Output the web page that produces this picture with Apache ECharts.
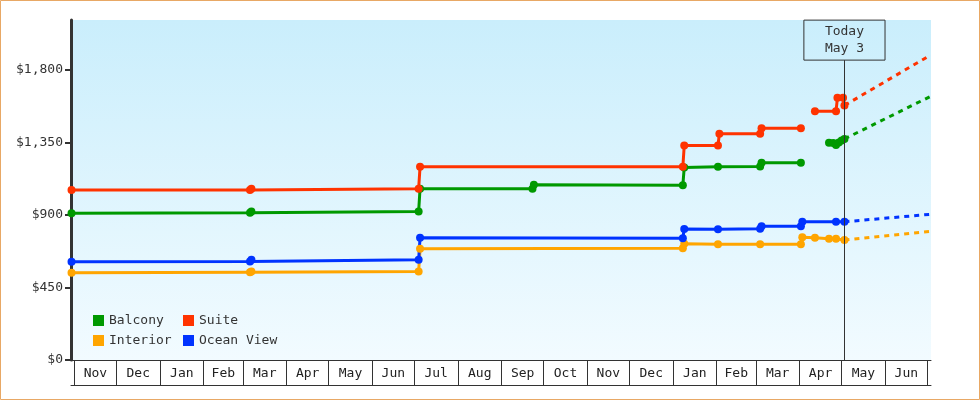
<!DOCTYPE html>
<html>
<head>
<meta charset="utf-8">
<title>Cabin prices</title>
<script src="https://cdn.jsdelivr.net/npm/echarts@6/dist/echarts.min.js"></script>
<style>
    html, body { margin: 0; padding: 0; background: #fff; }
    #priceChart { width: 980px; height: 400px; }
</style>
</head>
<body>
<div id="priceChart"></div>
<script type="text/javascript">
    // price history per cabin, [date, price]; '-' breaks the line
    var balcony = [
        ['2016-10-30', 910], ['2017-03-06', 914], ['2017-03-07', 922], ['2017-07-04', 922],
        ['2017-07-05', 1063], ['2017-09-23', 1063], ['2017-09-24', 1087], ['2018-01-08', 1085],
        ['2018-01-09', 1195], ['2018-02-02', 1199], ['2018-03-04', 1201], ['2018-03-05', 1224],
        ['2018-04-02', 1224], ['2018-04-10', '-'], ['2018-04-22', 1348], ['2018-04-25', 1346],
        ['2018-04-27', 1335], ['2018-04-29', 1350], ['2018-05-01', 1362], ['2018-05-03', 1372]
    ];
    var suite = [
        ['2016-10-30', 1055], ['2017-03-06', 1055], ['2017-03-07', 1062], ['2017-07-04', 1063],
        ['2017-07-05', 1199], ['2018-01-08', 1199], ['2018-01-09', 1331], ['2018-02-02', 1331],
        ['2018-02-03', 1404], ['2018-03-04', 1404], ['2018-03-05', 1438], ['2018-04-02', 1438],
        ['2018-04-07', '-'], ['2018-04-12', 1544], ['2018-04-27', 1544], ['2018-04-28', 1627],
        ['2018-05-02', 1627], ['2018-05-03', 1580]
    ];
    var interior = [
        ['2016-10-30', 541], ['2017-03-06', 545], ['2017-03-07', 549], ['2017-07-04', 549],
        ['2017-07-05', 690], ['2018-01-08', 694], ['2018-01-09', 721], ['2018-02-02', 719],
        ['2018-03-04', 719], ['2018-04-02', 719], ['2018-04-03', 762], ['2018-04-12', 758],
        ['2018-04-22', 752], ['2018-04-27', 752], ['2018-05-03', 744]
    ];
    var oceanView = [
        ['2016-10-30', 610], ['2017-03-06', 611], ['2017-03-07', 622], ['2017-07-04', 622],
        ['2017-07-05', 758], ['2018-01-08', 756], ['2018-01-09', 813], ['2018-02-02', 812],
        ['2018-03-04', 814], ['2018-03-05', 830], ['2018-04-02', 830], ['2018-04-03', 858],
        ['2018-04-27', 858], ['2018-05-03', 858]
    ];

    // projected prices after today
    var balconyTrend = [['2018-05-03', 1372], ['2018-07-03', 1635]];
    var suiteTrend = [['2018-05-03', 1580], ['2018-07-03', 1891]];
    var interiorTrend = [['2018-05-03', 744], ['2018-07-03', 798]];
    var oceanViewTrend = [['2018-05-03', 858], ['2018-07-03', 904]];

    var cabinNames = ['Balcony', 'Suite', 'Interior', 'Ocean View'];
    var cabinColors = ['#009900', '#ff3300', '#ffa500', '#0033ff'];

    var today = '2018-05-03';
    var todayText = 'Today\nMay 3';
    var todayTop = 1861;

    var xStart = '2016-10-29T15';
    var xEnd = '2018-07-03T14';
    var monthStarts = [
        '2016-11-01', '2016-12-01', '2017-01-01', '2017-02-01', '2017-03-01', '2017-04-01',
        '2017-05-01', '2017-06-01', '2017-07-01', '2017-08-01', '2017-09-01', '2017-10-01',
        '2017-11-01', '2017-12-01', '2018-01-01', '2018-02-01', '2018-03-01', '2018-04-01',
        '2018-05-01', '2018-06-01', '2018-07-01'
    ];
    var monthNames = ['Jan', 'Feb', 'Mar', 'Apr', 'May', 'Jun', 'Jul', 'Aug', 'Sep', 'Oct', 'Nov', 'Dec'];
    var priceTicks = [0, 450, 900, 1350, 1800];
    var priceMax = 2110;

    var FONT = '"DejaVu Sans Mono", monospace';

    function toTime(s) {
        var p = s.split(/[-T]/);
        return new Date(+p[0], p[1] - 1, +p[2], +(p[3] || 0)).getTime();
    }

    function toPoints(list) {
        return list.map(function (d) {
            return [toTime(d[0]), d[1]];
        });
    }

    var monthTicks = monthStarts.map(toTime);
    var monthMiddles = [];
    for (var i = 0; i < monthTicks.length - 1; i++) {
        monthMiddles.push((monthTicks[i] + monthTicks[i + 1]) / 2);
    }

    function priceSeries(idx, data) {
        return {
            name: cabinNames[idx],
            type: 'line',
            data: toPoints(data),
            symbol: 'circle',
            symbolSize: 8,
            color: cabinColors[idx],
            lineStyle: {width: 3},
            silent: true
        };
    }

    function trendSeries(idx, data) {
        return {
            name: cabinNames[idx] + ' trend',
            type: 'line',
            data: toPoints(data),
            symbol: 'none',
            color: cabinColors[idx],
            lineStyle: {width: 3, type: [5, 5]},
            silent: true
        };
    }

    function legendColumn(left, names) {
        return {
            orient: 'vertical',
            left: left,
            top: 314,
            padding: 0,
            itemGap: 7,
            itemWidth: 11,
            itemHeight: 11,
            icon: 'rect',
            data: names,
            textStyle: {fontFamily: FONT, fontSize: 13, color: '#333'}
        };
    }

    var series = [
        priceSeries(0, balcony),
        priceSeries(1, suite),
        priceSeries(2, interior),
        priceSeries(3, oceanView),
        trendSeries(0, balconyTrend),
        trendSeries(1, suiteTrend),
        trendSeries(2, interiorTrend),
        trendSeries(3, oceanViewTrend)
    ];

    // today marker
    series[0].markLine = {
        silent: true,
        symbol: ['none', 'none'],
        lineStyle: {color: '#333', width: 1, type: 'solid'},
        label: {
            show: true,
            position: 'end',
            distance: 0,
            formatter: todayText,
            fontFamily: FONT,
            fontSize: 13,
            lineHeight: 17,
            color: '#333',
            borderColor: '#333',
            borderWidth: 1,
            padding: [3, 21, 3, 21]
        },
        data: [[{coord: [toTime(today), 0]}, {coord: [toTime(today), todayTop]}]]
    };

    var chart = echarts.init(document.getElementById('priceChart'));
    chart.setOption({
        animation: false,
        graphic: [{
            type: 'rect',
            silent: true,
            shape: {x: 0.5, y: 0.5, width: 979, height: 399},
            style: {fill: 'none', stroke: '#e8a865', lineWidth: 1}
        }],
        grid: {
            left: 71, top: 20, width: 860, height: 340,
            show: true,
            borderWidth: 0,
            backgroundColor: new echarts.graphic.LinearGradient(0, 0, 0, 1, [
                {offset: 0, color: '#caeefc'},
                {offset: 1, color: '#f2fbff'}
            ])
        },
        legend: [
            legendColumn(93, [cabinNames[0], cabinNames[2]]),
            legendColumn(183, [cabinNames[1], cabinNames[3]])
        ],
        xAxis: [{
            type: 'value',
            min: toTime(xStart),
            max: toTime(xEnd),
            axisLine: {lineStyle: {color: '#333', width: 1}},
            axisTick: {show: false},
            axisLabel: {show: false},
            splitLine: {show: false}
        }, {
            type: 'value',
            min: toTime(xStart),
            max: toTime(xEnd),
            position: 'bottom',
            offset: 25,
            axisLine: {lineStyle: {color: '#333', width: 1}},
            axisTick: {
                show: true,
                inside: true,
                length: 25,
                customValues: monthTicks,
                lineStyle: {color: '#333', width: 1}
            },
            axisLabel: {
                inside: true,
                margin: 5,
                customValues: monthMiddles,
                fontFamily: FONT,
                fontSize: 13,
                color: '#222',
                formatter: function (v) {
                    return monthNames[new Date(v).getMonth()];
                }
            },
            splitLine: {show: false}
        }],
        yAxis: {
            type: 'value',
            min: 0,
            max: priceMax,
            axisLine: {show: true, lineStyle: {color: '#333', width: 3}},
            axisTick: {show: true, length: 6, customValues: priceTicks, lineStyle: {color: '#333', width: 2}},
            axisLabel: {
                margin: 8,
                customValues: priceTicks,
                fontFamily: FONT,
                fontSize: 13,
                color: '#333',
                formatter: function (v) {
                    return '$' + v.toLocaleString('en-US');
                }
            },
            splitLine: {show: false}
        },
        series: series
    });
</script>
</body>
</html>
